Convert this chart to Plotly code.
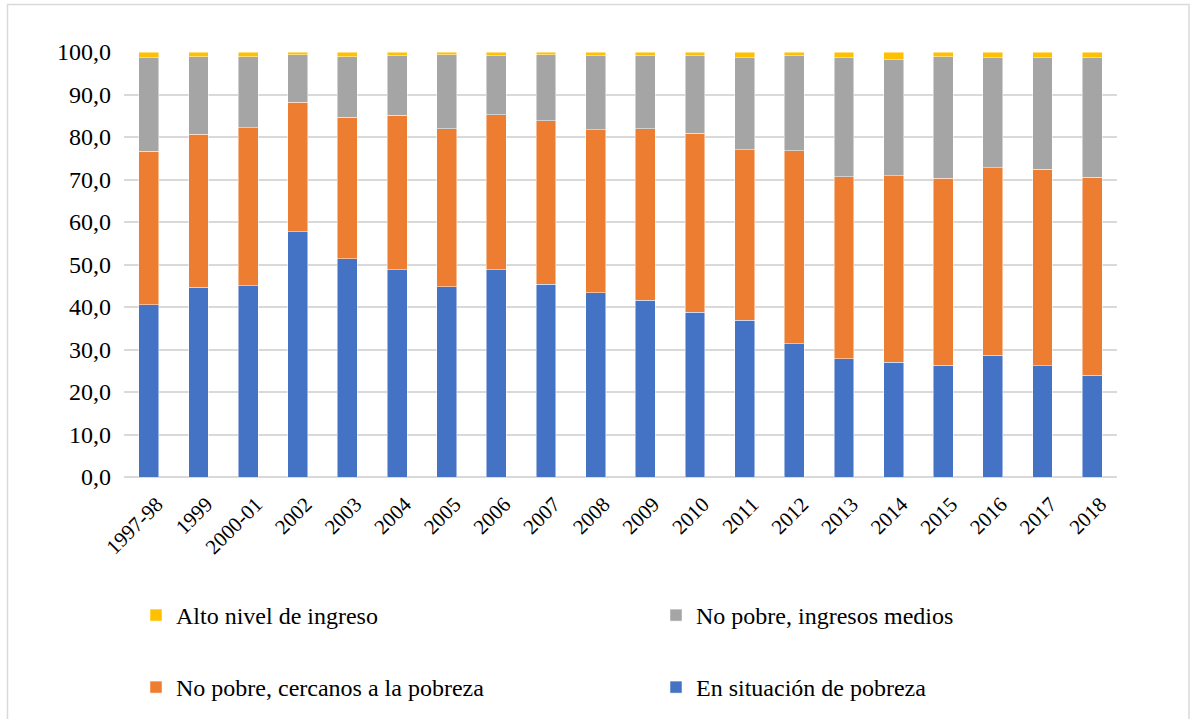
import plotly.graph_objects as go

categories = ["1997-98", "1999", "2000-01", "2002", "2003", "2004", "2005", "2006", "2007",
              "2008", "2009", "2010", "2011", "2012", "2013", "2014", "2015", "2016", "2017", "2018"]

pobreza = [40.5, 44.7, 45.0, 57.7, 51.3, 48.8, 44.8, 48.8, 45.3, 43.3,
           41.6, 38.8, 36.9, 31.3, 27.8, 27.0, 26.3, 28.7, 26.2, 23.9]
cercanos = [36.1, 36.0, 37.2, 30.5, 33.3, 36.3, 37.1, 36.4, 38.5, 38.4,
            40.4, 42.1, 40.1, 45.5, 42.9, 43.9, 44.0, 44.1, 46.2, 46.6]
medios = [22.1, 18.2, 16.7, 11.1, 14.3, 14.0, 17.4, 13.9, 15.5, 17.4,
          17.1, 18.2, 21.7, 22.3, 28.0, 27.3, 28.6, 25.9, 26.3, 28.2]
alto = [1.3, 1.1, 1.1, 0.7, 1.1, 0.9, 0.7, 0.9, 0.7, 0.9,
        0.9, 0.9, 1.3, 0.9, 1.3, 1.8, 1.1, 1.3, 1.3, 1.3]

y_ticks = [0, 10, 20, 30, 40, 50, 60, 70, 80, 90, 100]

FONT = "Liberation Serif, Times New Roman, serif"
edge = dict(color="rgba(255,255,255,0.6)", width=0.8)

fig = go.Figure()
fig.add_trace(go.Bar(x=categories, y=pobreza, name="En situación de pobreza",
                     marker=dict(color="#4472C4", line=edge), legend="legend4"))
fig.add_trace(go.Bar(x=categories, y=cercanos, name="No pobre, cercanos a la pobreza",
                     marker=dict(color="#ED7D31", line=edge), legend="legend3"))
fig.add_trace(go.Bar(x=categories, y=medios, name="No pobre, ingresos medios",
                     marker=dict(color="#A5A5A5", line=edge), legend="legend2"))
fig.add_trace(go.Bar(x=categories, y=alto, name="Alto nivel de ingreso",
                     marker=dict(color="#FFC000", line=edge), legend="legend"))

L, R, T, B = 124, 75, 52, 242
W, H = 1192, 719
pw, ph = W - L - R, H - T - B

def px_x(px):
    return (px - L) / pw

def px_y(py):
    return (H - B - py) / ph

def leg(xpx, ypx):
    return dict(orientation="h", xref="container", yref="container",
                x=xpx / W, y=1 - ypx / H, xanchor="left", yanchor="top",
                font=dict(family=FONT, size=24, color="black"),
                bgcolor="rgba(0,0,0,0)")

fig.update_layout(
    width=W, height=H,
    margin=dict(l=L, r=R, t=T, b=B),
    paper_bgcolor="white", plot_bgcolor="white",
    barmode="stack", bargap=0.6,
    separators=",.",
    font=dict(family=FONT, size=20, color="black"),
    xaxis=dict(tickangle=-45, showgrid=False, showline=False, ticks="",
               ticklabelstandoff=10, ticklabelshift=8,
               tickfont=dict(family=FONT, size=21, color="black")),
    yaxis=dict(range=[0, 100], tickvals=y_ticks, tickformat=".1f",
               showgrid=True, gridcolor="#D9D9D9", gridwidth=1.5,
               zeroline=True, zerolinecolor="#D9D9D9", zerolinewidth=1.5,
               showline=False, ticks="", ticklabelstandoff=12,
               tickfont=dict(family=FONT, size=24, color="black")),
    legend=leg(136, 593),
    legend2=leg(656, 593),
    legend3=leg(136, 665),
    legend4=leg(656, 665),
    showlegend=True,
)

fig.add_shape(type="rect", xref="paper", yref="paper",
              x0=px_x(7.5), x1=px_x(1189), y0=px_y(730), y1=px_y(4.5),
              line=dict(color="#D9D9D9", width=1.5), fillcolor="rgba(0,0,0,0)", layer="below")

fig.write_html("out.html")
